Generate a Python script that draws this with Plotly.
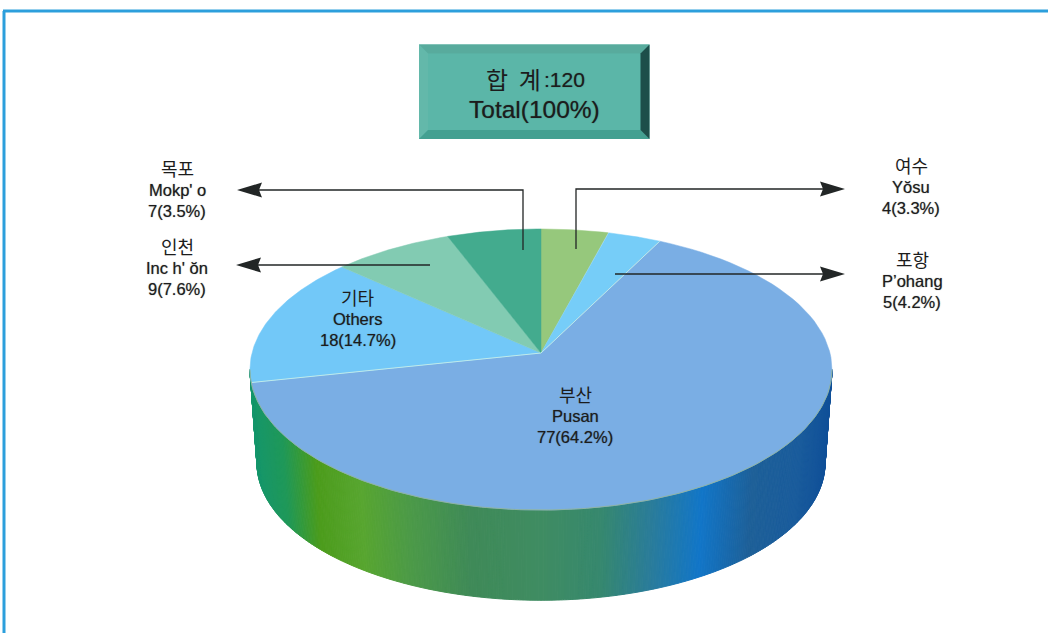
import numpy as np
import plotly.graph_objects as go

# Slices clockwise from 12 o'clock, sizes as drawn in the picture
slice_names = ["Yosu", "Pohang", "Pusan", "Others", "Inchon", "Mokpo"]
slice_sizes = [5, 4, 77, 18, 9, 7]
slice_colors = ["#96c87c", "#76cdf8", "#7aaee4", "#72c8f8", "#82cbb2", "#43ab8e"]

names_ko = ["목포", "인천", "기타", "부산", "여수", "포항"]
names_en = ["Mokp' o", "Inc h' ŏn", "Others", "Pusan", "Yŏsu", "P’ohang"]
counts = ["7(3.5%)", "9(7.6%)", "18(14.7%)", "77(64.2%)", "4(3.3%)", "5(4.2%)"]
label_x = [177, 177, 358, 575, 911, 912]
label_y = [168, 246, 297, 394, 165, 259]

title_ko = "합&nbsp;&nbsp;계"
title_count = ":120"
title_en = "Total(100%)"

side_stop_x = [250, 285, 318, 362, 410, 470, 540, 600, 650, 700, 750, 795, 832]
side_stop_c = ["#14966e", "#1f9858", "#4c9c1c", "#58a630", "#4c9a48", "#3f8a58", "#3f8c62", "#36886e",
               "#2a7c9a", "#1276c8", "#1e6098", "#1a5c9c", "#0e4e98"]

CX, AY, A, B, P = 541.0, 353.0, 289.0, 138.6, 0.1174
BOTTOM_SCALE, BOTTOM_Y = 0.976, 447.0


def project(theta, scale=1.0, y0=AY):
    u, v = np.sin(theta), np.cos(theta)
    w = 1 + P * v
    return CX + scale * A * u / w, y0 - scale * B * v / w


def hex_rgb(c):
    return np.array([int(c[i:i + 2], 16) for i in (1, 3, 5)], dtype=float)


stops = np.array([hex_rgb(c) for c in side_stop_c])


def side_color(x):
    r, g, b = (np.interp(x, side_stop_x, stops[:, k]) for k in range(3))
    return f"rgb({r:.0f},{g:.0f},{b:.0f})"


fig = go.Figure()

# Side wall
t0 = np.arccos(-P)
edges = np.linspace(t0, 2 * np.pi - t0, 331)
for a, b in zip(edges[:-1], edges[1:]):
    xa, ya = project(a)
    xb, yb = project(b)
    xc, yc = project(b, BOTTOM_SCALE, BOTTOM_Y)
    xd, yd = project(a, BOTTOM_SCALE, BOTTOM_Y)
    col = side_color((xa + xb + xc + xd) / 4)
    fig.add_trace(go.Scatter(x=[xa, xb, xc, xd, xa], y=[ya, yb, yc, yd, ya], mode="lines",
                             fill="toself", fillcolor=col, line=dict(color=col, width=1),
                             hoverinfo="skip", showlegend=False))

# Top face
angles = np.cumsum([0] + slice_sizes) / sum(slice_sizes) * 2 * np.pi
for i, name in enumerate(slice_names):
    th = np.linspace(angles[i], angles[i + 1], 90)
    rx, ry = project(th)
    fig.add_trace(go.Scatter(x=np.r_[CX, rx, CX], y=np.r_[AY, ry, AY], mode="lines", fill="toself",
                             fillcolor=slice_colors[i], line=dict(color=slice_colors[i], width=0.5),
                             name=name, hoverinfo="skip", showlegend=False))

# Light seams around the Pusan slice and its front rim
for k in (2, 3):
    ex, ey = project(angles[k])
    fig.add_trace(go.Scatter(x=[CX, ex], y=[AY, ey], mode="lines", line=dict(color="#bfeaea", width=1),
                             hoverinfo="skip", showlegend=False))
th = np.linspace(t0, 2 * np.pi - t0, 200)
rx, ry = project(th)
fig.add_trace(go.Scatter(x=rx, y=ry, mode="lines", line=dict(color="#8fb4a4", width=1),
                         hoverinfo="skip", showlegend=False))


def box(path, color):
    return dict(type="path", path=path, fillcolor=color, line=dict(width=0), layer="above")


L, R, T, Bm, E = 419, 649.5, 44.5, 139, 9
shapes = [
    # frame
    dict(type="line", x0=4, x1=4, y0=11, y1=633, line=dict(color="#2c9fdc", width=3)),
    dict(type="line", x0=3, x1=1048, y0=11, y1=11, line=dict(color="#2c9fdc", width=3)),
    # bevelled title box
    dict(type="rect", x0=L, x1=R, y0=T, y1=Bm, fillcolor="#5bb6a8", line=dict(width=0), layer="above"),
    box(f"M{L},{T} L{R},{T} L{R-E},{T+E} L{L+E},{T+E} Z", "#58ab9d"),
    box(f"M{L},{T} L{L+E},{T+E} L{L+E},{Bm-E} L{L},{Bm} Z", "#63b8aa"),
    box(f"M{L},{Bm} L{L+E},{Bm-E} L{R-E},{Bm-E} L{R},{Bm} Z", "#43a091"),
    box(f"M{R},{T} L{R-E},{T+E} L{R-E},{Bm-E} L{R},{Bm} Z", "#1d4f4a"),
]

# Leader lines
INK = "#222626"
for xs, ys in [([523, 523, 250], [250, 190, 190]), ([430, 250], [265, 265]),
               ([576, 576, 832], [249, 189, 189]), ([615, 832], [274, 274])]:
    path = "M" + " L".join(f"{x},{y}" for x, y in zip(xs, ys))
    shapes.append(dict(type="path", path=path, line=dict(color=INK, width=1.3), layer="above"))
for tip, y, d in [(237, 190, 1), (236, 265, 1), (845, 189, -1), (845, 274, -1)]:
    shapes.append(box(f"M{tip},{y} L{tip+d*25},{y-7.5} L{tip+d*22},{y} L{tip+d*25},{y+7.5} Z", INK))

KO = "Noto Sans CJK KR"
EN = "Liberation Sans"
TXT = "#1c1c1c"
THICK = "0 0 1px rgba(20,20,20,0.55)"


def text(x, y, s, font, size):
    fig.add_annotation(x=x, y=y, text=s, showarrow=False, xanchor="center", yanchor="middle",
                       font=dict(family=font, size=size, color=TXT,
                                 shadow=THICK if font == EN else "none"))


for ko, en, cnt, x, y in zip(names_ko, names_en, counts, label_x, label_y):
    text(x, y, ko, KO, 18)
    text(x, y + 22, en, EN, 16.5)
    text(x, y + 43, cnt, EN, 16.5)

text(513, 78, title_ko, KO, 24)
text(564, 79, title_count, EN, 21)
text(534, 109, title_en, EN, 24.5)

fig.update_layout(width=1048, height=633, margin=dict(l=0, r=0, t=0, b=0), paper_bgcolor="white",
                  plot_bgcolor="white", shapes=shapes, showlegend=False,
                  xaxis=dict(range=[0, 1048], visible=False, fixedrange=True),
                  yaxis=dict(range=[633, 0], visible=False, fixedrange=True))
fig.write_html("out.html", config=dict(displayModeBar=False),
               post_script="document.body.style.margin='0';")
